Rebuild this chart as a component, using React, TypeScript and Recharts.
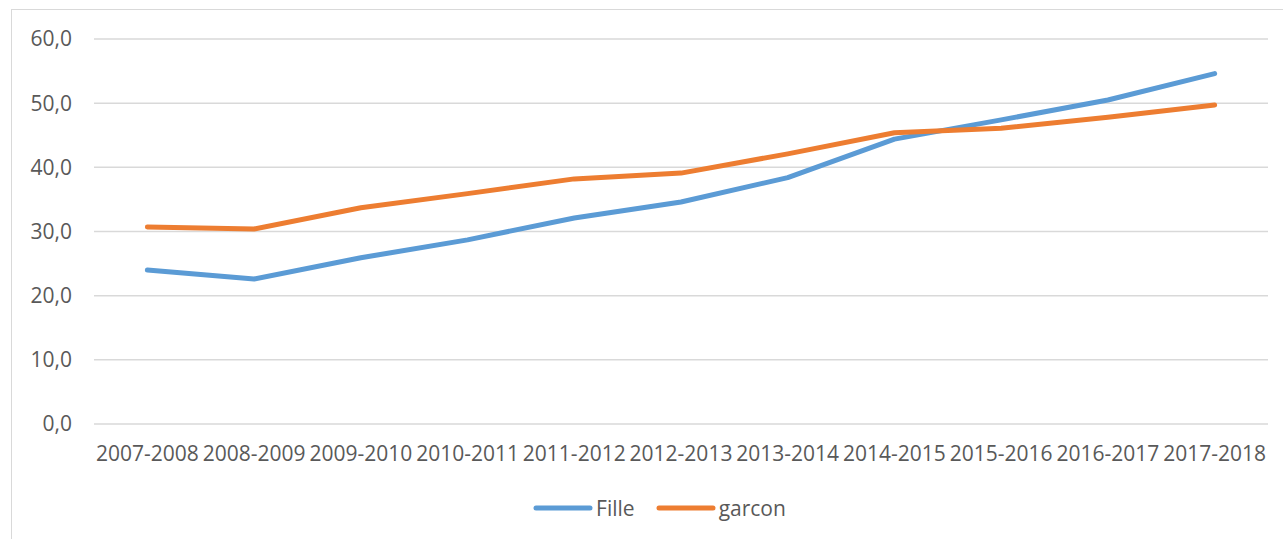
import React from "react";
import { LineChart, Line, XAxis, YAxis, CartesianGrid } from "recharts";

const categories = [
  "2007-2008", "2008-2009", "2009-2010", "2010-2011", "2011-2012", "2012-2013",
  "2013-2014", "2014-2015", "2015-2016", "2016-2017", "2017-2018",
];
const filleValues = [24.0, 22.6, 25.9, 28.7, 32.1, 34.6, 38.4, 44.4, 47.4, 50.5, 54.6];
const garconValues = [30.7, 30.4, 33.7, 35.9, 38.2, 39.1, 42.1, 45.4, 46.1, 47.8, 49.7];
const yTicks = [0, 10, 20, 30, 40, 50, 60];
const seriesNames = ["Fille", "garcon"];
const seriesColors = ["#5B9BD5", "#ED7D31"];

const data = categories.map((c, i) => ({
  year: c,
  Fille: filleValues[i],
  garcon: garconValues[i],
}));

const FONT = "'Open Sans', sans-serif";
const TEXT = "#595959";

const PLOT_W = 1283 - 94 - 15;
const HALF_BAND = PLOT_W / categories.length / 2;

export default function App() {
  return (
    <div
      style={{
        position: "absolute",
        left: 0,
        top: 0,
        width: 1283,
        height: 539,
        overflow: "hidden",
        background: "#fff",
        fontFamily: FONT,
      }}
    >
      <div
        style={{
          position: "absolute",
          left: 11,
          top: 9,
          width: 1300,
          height: 600,
          border: "1.5px solid #d9d9d9",
          boxSizing: "border-box",
        }}
      />
      <div style={{ position: "absolute", left: 0, top: 0 }}>
        <LineChart
          width={1283}
          height={539}
          data={data}
          margin={{ top: 39, right: 15, left: 0, bottom: 75 }}
        >
          <CartesianGrid vertical={false} stroke="#d9d9d9" strokeWidth={1.5} />
          <XAxis
            dataKey="year"
            axisLine={false}
            tickLine={false}
            tickSize={0}
            tickMargin={22}
            height={40}
            interval={0}
            padding={{ left: HALF_BAND, right: HALF_BAND }}
            tick={{ fill: TEXT, fontSize: 21, fontFamily: FONT }}
          />
          <YAxis
            width={94}
            domain={[0, 60]}
            ticks={yTicks}
            axisLine={false}
            tickLine={false}
            tickSize={0}
            tickMargin={22}
            tickFormatter={(v: number) => v.toFixed(1).replace(".", ",")}
            tick={{ fill: TEXT, fontSize: 21, fontFamily: FONT }}
          />
          {seriesNames.map((name, i) => (
            <Line
              key={name}
              type="linear"
              dataKey={name}
              stroke={seriesColors[i]}
              strokeWidth={5}
              strokeLinecap="round"
              strokeLinejoin="round"
              dot={false}
              activeDot={false}
              isAnimationActive={false}
            />
          ))}
        </LineChart>
      </div>
      <div
        style={{
          position: "absolute",
          top: 494,
          left: 0,
          width: 1318,
          display: "flex",
          justifyContent: "center",
          alignItems: "center",
          gap: 20,
          color: TEXT,
          fontSize: 21,
          lineHeight: "28px",
        }}
      >
        {seriesNames.map((name, i) => (
          <div key={name} style={{ display: "flex", alignItems: "center" }}>
            <svg width={62} height={10} style={{ marginRight: 2 }}>
              <line
                x1={4}
                y1={5}
                x2={58}
                y2={5}
                stroke={seriesColors[i]}
                strokeWidth={5}
                strokeLinecap="round"
              />
            </svg>
            <span>{name}</span>
          </div>
        ))}
      </div>
    </div>
  );
}
